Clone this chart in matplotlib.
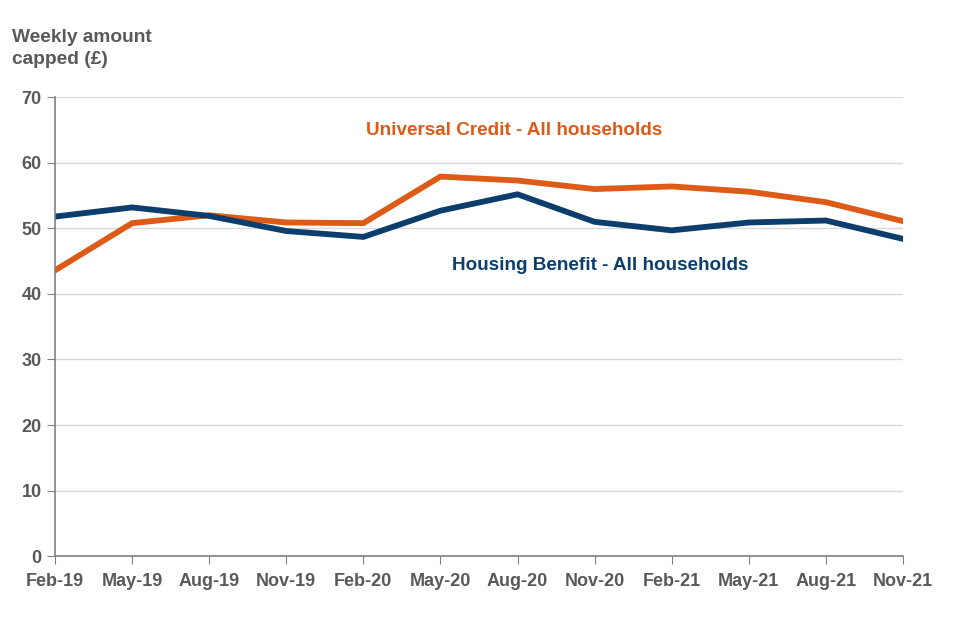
import matplotlib.pyplot as plt

plt.rcParams["font.family"] = ["Liberation Sans", "DejaVu Sans"]

months = ["Feb-19", "May-19", "Aug-19", "Nov-19", "Feb-20", "May-20",
          "Aug-20", "Nov-20", "Feb-21", "May-21", "Aug-21", "Nov-21"]
universal_credit = [43.6, 50.8, 52.0, 50.9, 50.8, 57.9, 57.3, 56.0, 56.4, 55.6, 54.0, 51.1]
housing_benefit = [51.8, 53.2, 51.9, 49.6, 48.7, 52.7, 55.2, 51.0, 49.7, 50.9, 51.2, 48.4]

orange = "#DD5A17"
navy = "#0B3D6D"
grey = "#595959"

fig = plt.figure(figsize=(9.6, 6.4), dpi=100)
ax = fig.add_axes([0.0573, 0.131, 0.8833, 0.717])

x = list(range(len(months)))
ax.plot(x, universal_credit, color=orange, lw=4.2, solid_joinstyle="miter")
ax.plot(x, housing_benefit, color=navy, lw=4.2, solid_joinstyle="miter")

ax.set_xlim(0, len(months) - 1)
ax.set_ylim(0, 70)
ax.set_yticks(range(0, 71, 10))
ax.set_xticks(x)
ax.set_xticklabels(months)
ax.yaxis.grid(True, color="#D9D9D9", lw=1)
ax.set_axisbelow(True)

for s in ["top", "right"]:
    ax.spines[s].set_visible(False)
for s in ["left", "bottom"]:
    ax.spines[s].set_color("#808080")
    ax.spines[s].set_linewidth(1.2)

ax.tick_params(axis="both", colors="#808080", labelcolor=grey, labelsize=13, length=6)
ax.tick_params(axis="x", pad=6)
for lab in ax.get_xticklabels() + ax.get_yticklabels():
    lab.set_fontweight("bold")

ax.text(5.95, 65, "Universal Credit - All households", color=orange,
        fontsize=13.6, fontweight="bold", va="center", ha="center")
ax.text(7.07, 44.4, "Housing Benefit - All households", color=navy,
        fontsize=13.6, fontweight="bold", va="center", ha="center")

fig.text(0.0125, 0.955, "Weekly amount\ncapped (£)", color=grey, fontsize=13.8,
         fontweight="bold", va="top", ha="left", linespacing=1.4)

fig.savefig("out.png", dpi=100)
